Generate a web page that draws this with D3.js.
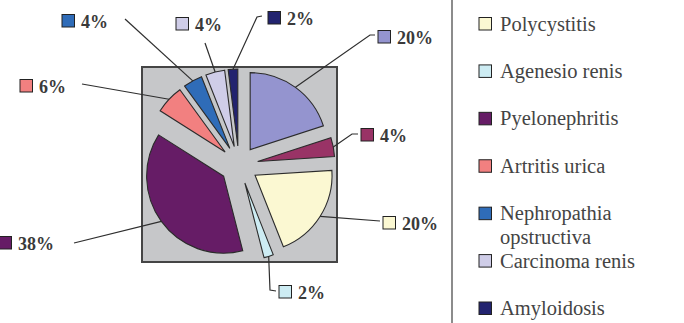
<!DOCTYPE html>
<html>
<head>
<meta charset="utf-8">
<script src="https://cdn.jsdelivr.net/npm/d3@7/dist/d3.min.js"></script>
<style>
  html, body { margin: 0; padding: 0; background: #fff; }
  svg { display: block; }
</style>
</head>
<body>
<svg id="chart" width="684" height="323"></svg>
<script>
// Slice values (percent), clockwise from 12 o'clock
const values = [20, 4, 20, 2, 38, 6, 4, 4, 2];
// Category names; the first two have no legend entry in view
const categories = ["", "", "Polycystitis", "Agenesio renis", "Pyelonephritis",
  "Artritis urica", "Nephropathia opstructiva", "Carcinoma renis", "Amyloidosis"];
const colors = ["#9494cf", "#993366", "#fbf8d2", "#cdecf3", "#661c66",
  "#f28080", "#2f6cb8", "#cfcde8", "#22236f"];
const labelText = values.map(v => v + "%");

// Hand-placed data-label anchors (legend-key left edge, vertical centre) and leader bends
const labelLayout = [
  { x: 378, y: 37,  bends: [[370, 35], [375, 35]] },
  { x: 361, y: 135, bends: [[352, 134], [358, 134]] },
  { x: 383, y: 223, bends: [[380, 221]] },
  { x: 279, y: 292, bends: [[270, 290], [276, 291]] },
  { x: -1,  y: 243, bends: [[74, 243]] },
  { x: 20,  y: 86,  bends: [[82, 84]] },
  { x: 62,  y: 21,  bends: [[125, 19]] },
  { x: 176, y: 24,  bends: [[205, 43]] },
  { x: 268, y: 18,  bends: [[257, 17], [262, 16]] }
];

const svg = d3.select("#chart");
const serif = "'Liberation Serif', 'Times New Roman', serif";

// Plot area
const plot = { x0: 142, y0: 67, x1: 337, y1: 262 };
const cx = 239, cy = 165, radius = 77, explode = 19;

svg.append("rect")
  .attr("x", plot.x0).attr("y", plot.y0)
  .attr("width", plot.x1 - plot.x0).attr("height", plot.y1 - plot.y0)
  .attr("fill", "#c6c7c9")
  .attr("stroke", "#454545").attr("stroke-width", 2);

const pie = d3.pie().sort(null).startAngle(0).endAngle(2 * Math.PI).value(d => d);
const arcs = pie(values);
const arc = d3.arc().innerRadius(0).outerRadius(radius);

const dir = a => [Math.sin(a), -Math.cos(a)];

const g = svg.append("g").attr("transform", `translate(${cx},${cy})`);
g.selectAll("path.slice")
  .data(arcs)
  .join("path")
  .attr("class", "slice")
  .attr("transform", d => {
    const m = (d.startAngle + d.endAngle) / 2;
    const [ux, uy] = dir(m);
    return `translate(${ux * explode},${uy * explode})`;
  })
  .attr("d", arc)
  .attr("fill", (d, i) => colors[i])
  .attr("stroke", "#2b2b2b")
  .attr("stroke-width", 1.1)
  .attr("stroke-linejoin", "miter");

// Leader lines from the outer arc midpoint to each label
const line = d3.line();
svg.selectAll("path.leader")
  .data(arcs)
  .join("path")
  .attr("class", "leader")
  .attr("d", (d, i) => {
    const m = (d.startAngle + d.endAngle) / 2;
    const [ux, uy] = dir(m);
    const start = [cx + ux * (explode + radius), cy + uy * (explode + radius)];
    return line([start, ...labelLayout[i].bends]);
  })
  .attr("fill", "none")
  .attr("stroke", "#2e2e2e")
  .attr("stroke-width", 1.2);

// Data labels: colour key + percentage
const labels = svg.selectAll("g.dlabel")
  .data(arcs)
  .join("g")
  .attr("class", "dlabel")
  .attr("transform", (d, i) => `translate(${labelLayout[i].x},${labelLayout[i].y})`);

labels.append("rect")
  .attr("x", 0).attr("y", -6.5)
  .attr("width", 12.5).attr("height", 12.5)
  .attr("fill", (d, i) => colors[i])
  .attr("stroke", "#222").attr("stroke-width", 1);

labels.append("text")
  .attr("x", 19).attr("y", 6.5)
  .attr("font-family", serif)
  .attr("font-weight", "bold")
  .attr("font-size", 18)
  .attr("fill", "#3a3a3a")
  .text((d, i) => labelText[i]);

// Legend
svg.append("line")
  .attr("x1", 452).attr("x2", 452)
  .attr("y1", 0).attr("y2", 323)
  .attr("stroke", "#666").attr("stroke-width", 1.5);

const legendItems = categories
  .map((name, i) => ({ name, color: colors[i] }))
  .filter(d => d.name);

const rowY = d3.scaleLinear().domain([0, legendItems.length - 1]).range([24, 308.5]);

const legend = svg.append("g")
  .selectAll("g")
  .data(legendItems)
  .join("g")
  .attr("transform", (d, i) => `translate(479,${rowY(i)})`);

legend.append("rect")
  .attr("x", 0).attr("y", -6.5)
  .attr("width", 12.5).attr("height", 12.5)
  .attr("fill", d => d.color)
  .attr("stroke", "#222").attr("stroke-width", 1);

legend.append("text")
  .attr("x", 21).attr("y", 6.5)
  .attr("font-family", serif)
  .attr("font-size", 20.5)
  .attr("fill", "#444")
  .each(function(d) {
    // wrap long names onto a second line
    const t = d3.select(this);
    const words = d.name.split(" ");
    let lineWords = [];
    let tspan = t.append("tspan").attr("x", 21);
    words.forEach(w => {
      lineWords.push(w);
      tspan.text(lineWords.join(" "));
      if (tspan.node().getComputedTextLength() > 170 && lineWords.length > 1) {
        lineWords.pop();
        tspan.text(lineWords.join(" "));
        lineWords = [w];
        tspan = t.append("tspan").attr("x", 21).attr("dy", 24).text(w);
      }
    });
  });
</script>
</body>
</html>
